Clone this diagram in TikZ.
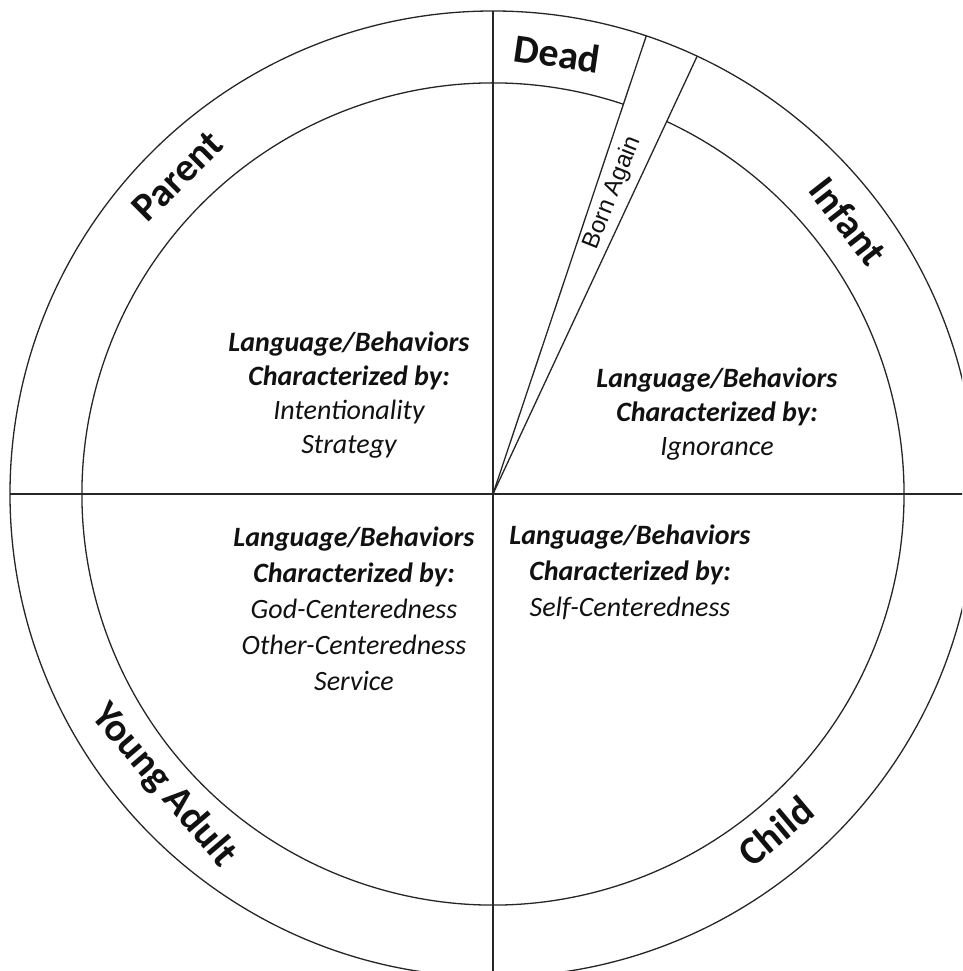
\documentclass[tikz,border=0pt]{standalone}
\usepackage{fontspec}
\setmainfont{Carlito}
\newfontfamily\bornfont{Liberation Sans}
\usepackage{tikz}
\definecolor{ink}{HTML}{111111}
\definecolor{rim}{HTML}{262626}
\tikzset{fig/.style={line join=round,x=1pt,y=1pt},
  rimline/.style={rim,line width=1.3pt},
  ringlbl/.style={font=\fontsize{40}{48}\selectfont\bfseries,ink,inner sep=0pt},
  blurb/.style={font=\fontsize{28}{#1}\selectfont\itshape,ink,align=center,inner sep=0pt},
  blurb/.default=34}
\newcommand{\charhead}{\textbf{Language/Behaviors}\\\textbf{Characterized by:}}

\begin{document}
\begin{tikzpicture}[fig]
  \useasboundingbox(-493,-477)rectangle(469,494);
  \clip(-493,-477)rectangle(469,494);
  \coordinate(o)at(0,0);
  % outer rim, inner rim broken by the wedge
  \draw[rimline](o)circle(483);
  \draw[rimline](71.5:411)arc(71.5:425:411);
  % the four quadrants
  \draw[rimline](-483,0)--(483,0);
  \draw[rimline](0,483)--(0,-483);
  % born again wedge
  \draw[rimline](o)--(71.5:483);
  \draw[rimline](o)--(65:483);
  % stage names on the ring
  \node[ringlbl,rotate=-8.3](dead)at(81.7:445){Dead};
  \node[ringlbl,rotate=44.8](parent)at(134.8:448){Parent};
  \node[ringlbl,rotate=-52](infant)at(37.5:448){Infant};
  \node[ringlbl,rotate=-49.5](yadult)at(221.5:440){Young Adult};
  \node[ringlbl,rotate=40](child)at(-50:440){Child};
  \node[font=\bornfont\fontsize{24}{28}\selectfont,ink,inner sep=0pt,rotate=68.3](born)at(68.3:324){Born Again};
  % what each stage sounds like
  \node[blurb](parentbx)at(-144,98.5){\charhead\\Intentionality\\Strategy};
  \node[blurb](infantbx)at(224,80){\charhead\\Ignorance};
  \node[blurb=36](yadultbx)at(-139,-115){\charhead\\God-Centeredness\\Other-Centeredness\\Service};
  \node[blurb=36](childbx)at(137,-78){\charhead\\Self-Centeredness};
\end{tikzpicture}
\end{document}
